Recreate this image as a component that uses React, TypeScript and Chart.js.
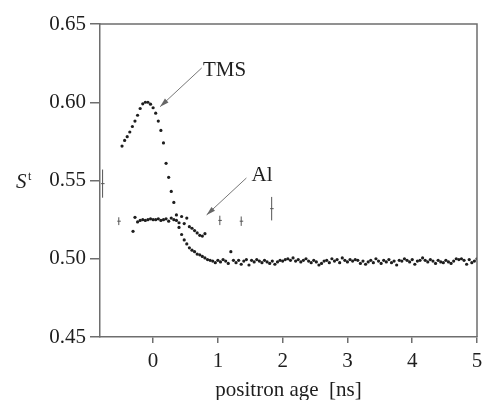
import { useEffect, useRef } from 'react';
import { Chart, registerables } from 'chart.js';

Chart.register(...registerables);

// TMS: time channels start at tmsStart, one every tmsStep ns
const tmsStart = -0.48;
const tmsStep = 0.04;
const tmsValues = [
  0.572, 0.5756, 0.578, 0.581, 0.5845, 0.588, 0.5917, 0.596, 0.599, 0.6,
  0.6, 0.5988, 0.5965, 0.593, 0.588, 0.582, 0.574, 0.561, 0.552, 0.543,
  0.536, 0.528, 0.52, 0.5155, 0.512, 0.5095, 0.507, 0.5055, 0.5045, 0.503,
  0.5025, 0.5015, 0.5005, 0.4995, 0.499, 0.4985, 0.4975, 0.499, 0.498, 0.4995,
  0.4985, 0.497, 0.5045, 0.499, 0.4975, 0.499, 0.4965, 0.4985, 0.4995, 0.496,
  0.499, 0.498, 0.4995, 0.4985, 0.4975, 0.499, 0.498, 0.497, 0.4985, 0.4965,
  0.498, 0.499, 0.4985, 0.4995, 0.5, 0.499, 0.5005, 0.4985, 0.4995, 0.498,
  0.499, 0.5, 0.4985, 0.4975, 0.499, 0.498, 0.496, 0.497, 0.4985, 0.499,
  0.4975, 0.5, 0.4985, 0.4995, 0.4975, 0.5005, 0.499, 0.498, 0.4995, 0.4985,
  0.4995, 0.499, 0.497, 0.4985, 0.4965, 0.498, 0.499, 0.4975, 0.5, 0.4985,
  0.497, 0.499, 0.498, 0.4995, 0.4975, 0.4985, 0.496, 0.499, 0.4985, 0.5,
  0.499, 0.498, 0.4995, 0.4965, 0.4985, 0.499, 0.5005, 0.499, 0.498, 0.4995,
  0.4985, 0.497, 0.499, 0.498, 0.4975, 0.499, 0.498, 0.497, 0.4985, 0.5,
  0.4995, 0.5, 0.499, 0.4965, 0.4995, 0.4975, 0.4985, 0.5,
];

// Al
const alTimes = [
  -0.31, -0.28, -0.24, -0.2, -0.16, -0.12, -0.08, -0.04, 0.0, 0.04,
  0.08, 0.12, 0.16, 0.2, 0.24, 0.28, 0.32, 0.36, 0.4, 0.44,
  0.48, 0.52, 0.56, 0.6, 0.64, 0.68, 0.72, 0.76, 0.8,
];
const alValues = [
  0.5175, 0.5265, 0.5235, 0.5245, 0.525, 0.5245, 0.525, 0.5255, 0.525, 0.525,
  0.5255, 0.5245, 0.525, 0.5255, 0.524, 0.526, 0.525, 0.5245, 0.523, 0.527,
  0.5225, 0.526, 0.5205, 0.5195, 0.518, 0.5165, 0.515, 0.5145, 0.516,
];

// error bars
const errTimes = [-0.78, -0.53, 1.03, 1.36, 1.83];
const errCenters = [0.548, 0.524, 0.5245, 0.524, 0.532];
const errHalf = [0.009, 0.0025, 0.003, 0.003, 0.0075];

const xTicks = [0, 1, 2, 3, 4, 5];
const yTicks = [0.45, 0.5, 0.55, 0.6, 0.65];

const noteTexts = ['TMS', 'Al'];
const noteTextX = [0.77, 1.52];
const noteTextY = [0.6206, 0.5535];
const noteFromX = [0.75, 1.44];
const noteFromY = [0.6219, 0.5516];
const noteToX = [0.108, 0.826];
const noteToY = [0.5972, 0.528];

const FONT = "'Liberation Serif', 'Times New Roman', serif";
const AXIS = '#6e6e6e';
const INK = '#1e1e1e';

const overlay = {
  id: 'overlay',
  afterDatasetsDraw(chart: any) {
    const { ctx, chartArea: a, scales } = chart;
    const x = scales.x;
    const y = scales.y;
    ctx.save();
    // frame top and right
    ctx.strokeStyle = AXIS;
    ctx.lineWidth = 1.5;
    ctx.beginPath();
    ctx.moveTo(a.left, a.top);
    ctx.lineTo(a.right, a.top);
    ctx.lineTo(a.right, a.bottom);
    ctx.stroke();

    // error bars
    ctx.strokeStyle = '#555';
    ctx.fillStyle = '#444';
    ctx.lineWidth = 1;
    errTimes.forEach((t, i) => {
      const px = x.getPixelForValue(t);
      const top = y.getPixelForValue(errCenters[i] + errHalf[i]);
      const bot = y.getPixelForValue(errCenters[i] - errHalf[i]);
      const mid = y.getPixelForValue(errCenters[i]);
      ctx.beginPath();
      ctx.moveTo(px, top);
      ctx.lineTo(px, bot);
      ctx.stroke();
      ctx.beginPath();
      ctx.moveTo(px - 1.5, mid);
      ctx.lineTo(px + 2, mid);
      ctx.stroke();
    });

    // annotations
    ctx.font = `21px ${FONT}`;
    ctx.textBaseline = 'middle';
    ctx.textAlign = 'left';
    noteTexts.forEach((txt, i) => {
      ctx.fillStyle = INK;
      ctx.fillText(txt, x.getPixelForValue(noteTextX[i]), y.getPixelForValue(noteTextY[i]));
      const x1 = x.getPixelForValue(noteFromX[i]);
      const y1 = y.getPixelForValue(noteFromY[i]);
      const x2 = x.getPixelForValue(noteToX[i]);
      const y2 = y.getPixelForValue(noteToY[i]);
      ctx.strokeStyle = '#777';
      ctx.lineWidth = 1;
      ctx.beginPath();
      ctx.moveTo(x1, y1);
      ctx.lineTo(x2, y2);
      ctx.stroke();
      const ang = Math.atan2(y2 - y1, x2 - x1);
      const L = 9;
      const W = 2.6;
      ctx.fillStyle = '#666';
      ctx.beginPath();
      ctx.moveTo(x2, y2);
      ctx.lineTo(x2 - L * Math.cos(ang) + W * Math.sin(ang), y2 - L * Math.sin(ang) - W * Math.cos(ang));
      ctx.lineTo(x2 - L * Math.cos(ang) - W * Math.sin(ang), y2 - L * Math.sin(ang) + W * Math.cos(ang));
      ctx.closePath();
      ctx.fill();
    });

    // y title S^t
    const yc = y.getPixelForValue(0.55);
    ctx.fillStyle = INK;
    ctx.textBaseline = 'alphabetic';
    ctx.font = `italic 21px ${FONT}`;
    ctx.fillText('S', 16, yc + 7);
    ctx.font = `12px ${FONT}`;
    ctx.fillText('t', 28, yc - 1);
    ctx.restore();
  },
};

export default function App() {
  const ref = useRef<HTMLCanvasElement>(null);
  useEffect(() => {
    if (!ref.current) return;
    const tmsPoints = tmsValues.map((v, i) => ({ x: tmsStart + i * tmsStep, y: v }));
    const alPoints = alValues.map((v, i) => ({ x: alTimes[i], y: v }));
    const chart = new Chart(ref.current, {
      type: 'scatter',
      data: {
        datasets: [
          {
            label: 'TMS',
            data: tmsPoints,
            pointRadius: 1.6,
            pointBackgroundColor: INK,
            pointBorderWidth: 0,
            showLine: false,
          },
          {
            label: 'Al',
            data: alPoints,
            pointRadius: 1.6,
            pointBackgroundColor: INK,
            pointBorderWidth: 0,
            showLine: false,
          },
        ],
      },
      options: {
        animation: false,
        responsive: false,
        layout: { padding: { top: 24, right: 0, left: 0, bottom: 0 } },
        plugins: { legend: { display: false }, tooltip: { enabled: false } },
        scales: {
          x: {
            type: 'linear',
            min: -0.82,
            max: 5,
            afterBuildTicks: (s: any) => {
              s.ticks = xTicks.map((v) => ({ value: v }));
            },
            afterFit: (s: any) => {
              s.height = 63;
              s.paddingLeft = 0;
              s.paddingRight = 6;
            },
            grid: { display: true, drawOnChartArea: false, drawTicks: true, tickLength: 6, color: AXIS, lineWidth: 1.5 },
            border: { display: true, color: AXIS, width: 1.5 },
            ticks: { color: INK, font: { family: FONT, size: 21 }, padding: 6, maxRotation: 0 },
            title: {
              display: true,
              text: 'positron age  [ns]',
              color: INK,
              font: { family: FONT, size: 21 },
              padding: { top: 0, bottom: -3 },
            },
          },
          y: {
            type: 'linear',
            min: 0.45,
            max: 0.65,
            afterBuildTicks: (s: any) => {
              s.ticks = yTicks.map((v) => ({ value: v }));
            },
            afterFit: (s: any) => {
              s.width = 100;
              s.paddingTop = 0;
              s.paddingBottom = 0;
            },
            grid: { display: true, drawOnChartArea: false, drawTicks: true, tickLength: 10, color: AXIS, lineWidth: 1.5 },
            border: { display: true, color: AXIS, width: 1.5 },
            ticks: {
              color: INK,
              font: { family: FONT, size: 21 },
              padding: 4,
              callback: (v: any) => Number(v).toFixed(2),
            },
          },
        },
      },
      plugins: [overlay],
    });
    return () => chart.destroy();
  }, []);
  return (
    <div style={{ position: 'fixed', left: 0, top: 0, width: 483, height: 400, background: '#fff' }}>
      <canvas ref={ref} width={483} height={400} style={{ width: 483, height: 400 }} />
    </div>
  );
}
